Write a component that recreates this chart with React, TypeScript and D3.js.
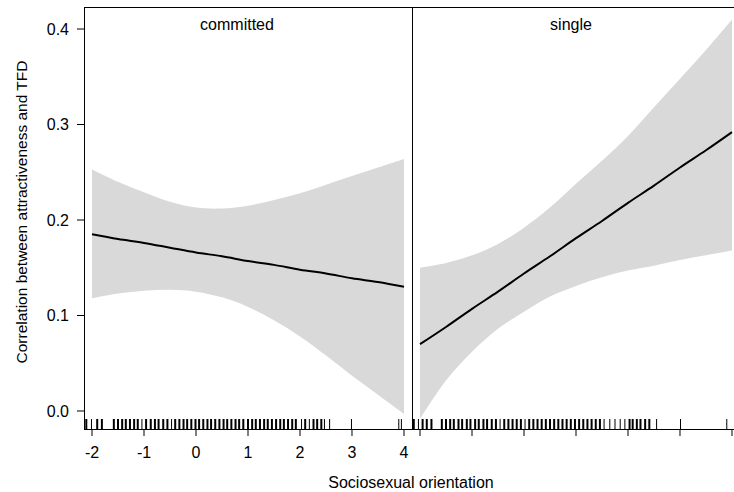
import React from 'react'
import * as d3 from 'd3'

// moderator grid used for the fitted line and its confidence band
const gridX = [-2, -1.5, -1, -0.5, 0, 0.5, 1, 1.5, 2, 2.5, 3, 3.5, 4]

const committedFit = [0.185, 0.18, 0.176, 0.171, 0.166, 0.162, 0.157, 0.153, 0.148, 0.144, 0.139, 0.135, 0.13]
const committedUpper = [0.253, 0.24, 0.229, 0.219, 0.213, 0.212, 0.215, 0.221, 0.228, 0.237, 0.246, 0.255, 0.264]
const committedLower = [0.118, 0.123, 0.126, 0.127, 0.125, 0.119, 0.109, 0.095, 0.078, 0.058, 0.037, 0.017, -0.003]

const singleFit = [0.07, 0.088, 0.107, 0.125, 0.144, 0.162, 0.181, 0.199, 0.218, 0.236, 0.255, 0.273, 0.292]
const singleUpper = [0.15, 0.155, 0.163, 0.175, 0.192, 0.213, 0.238, 0.262, 0.288, 0.318, 0.348, 0.378, 0.41]
const singleLower = [-0.008, 0.032, 0.062, 0.086, 0.104, 0.12, 0.131, 0.14, 0.147, 0.152, 0.158, 0.163, 0.168]

// rug of observed sociosexual orientation scores
const committedRug = [
  -2.11, -1.9, -1.81, -1.58, -1.5, -1.42, -1.35, -1.27, -1.19, -1.12, -0.96, -0.87, -0.79,
  -0.72, -0.63, -0.55, -0.4, -0.32, -0.24, -0.17, -0.09, -0.01, 0.06, 0.14, 0.22, 0.29,
  0.37, 0.45, 0.53, 0.6, 0.68, 0.76, 0.83, 0.91, 1.0, 1.08, 1.15, 1.23, 1.31, 1.38,
  1.46, 1.54, 1.62, 1.69, 1.77, 1.85, 1.92, 2.1, 2.26, 2.33, 2.41
]
const committedRugThin = [-2.01, -1.04, -0.47, 2.03, 2.18, 2.47, 2.57, 2.99, 3.9, 3.95]

const singleRug = [
  -2.12, -1.95, -1.87, -1.78, -1.58, -1.5, -1.42, -1.35, -1.26, -1.19, -1.1, -1.03, -0.94,
  -0.87, -0.78, -0.71, -0.62, -0.54, -0.38, -0.3, -0.22, -0.14, -0.06, 0.1, 0.18, 0.26,
  0.34, 0.42, 0.5, 0.58, 0.66, 0.74, 0.82, 0.9, 0.98, 1.06, 1.14, 1.22, 1.3, 1.38, 1.46,
  2.03, 2.09, 2.17, 2.24, 2.33, 2.41
]
const singleRugThin = [-2.03, -0.46, 0.02, 1.54, 1.65, 1.75, 1.85, 1.94, 2.55, 3.01, 3.9]

const xTicks = [-2, -1, 0, 1, 2, 3, 4]
const yTicks = [0, 0.1, 0.2, 0.3, 0.4]

const panels = [
  { name: 'committed', fit: committedFit, upper: committedUpper, lower: committedLower, rug: committedRug, rugThin: committedRugThin, labelX: 237, showLabels: true },
  { name: 'single', fit: singleFit, upper: singleUpper, lower: singleLower, rug: singleRug, rugThin: singleRugThin, labelX: 571, showLabels: false },
]

const width = 734
const height = 492
const top = 7
const bottom = 429
const panelLeft = 84
const panelWidth = 328
const font = 'Liberation Sans, Arial, sans-serif'

export default function App() {
  const y = d3.scaleLinear().domain([0, 0.4]).range([411, 29])

  return (
    <svg width={width} height={height} style={{ position: 'absolute', left: 0, top: 0, background: '#fff' }} fontFamily={font}>
      {panels.map((p, i) => {
        const x0 = panelLeft + i * panelWidth
        const x = d3.scaleLinear().domain([-2.154, 4.154]).range([x0, x0 + panelWidth])
        const pts = gridX.map((v, k) => ({ x: v, fit: p.fit[k], lo: p.lower[k], hi: p.upper[k] }))
        const band = d3.area<any>().x(d => x(d.x)).y0(d => y(d.lo)).y1(d => y(d.hi)).curve(d3.curveCatmullRom)
        const line = d3.line<any>().x(d => x(d.x)).y(d => y(d.fit)).curve(d3.curveCatmullRom)
        return (
          <g key={p.name}>
            <path d={band(pts) || ''} fill="#d9d9d9" />
            <path d={line(pts) || ''} fill="none" stroke="#000" strokeWidth={2} />
            {p.rug.map((v, k) => (
              <line key={'r' + k} x1={x(v)} x2={x(v)} y1={419} y2={bottom} stroke="#000" strokeWidth={2} />
            ))}
            {p.rugThin.map((v, k) => (
              <line key={'t' + k} x1={x(v)} x2={x(v)} y1={419} y2={bottom} stroke="#000" strokeWidth={1} />
            ))}
            {xTicks.map(t => (
              <g key={t}>
                <line x1={x(t)} x2={x(t)} y1={bottom} y2={436} stroke="#000" strokeWidth={1} />
                {p.showLabels && (
                  <text x={x(t)} y={458} fontSize={16} textAnchor="middle">{t}</text>
                )}
              </g>
            ))}
            <text x={p.labelX} y={30} fontSize={16} textAnchor="middle">{p.name}</text>
            <line x1={x0 + 0.5} x2={x0 + 0.5} y1={top} y2={bottom} stroke="#000" strokeWidth={1} />
          </g>
        )
      })}
      <line x1={panelLeft} x2={width} y1={top + 0.5} y2={top + 0.5} stroke="#000" strokeWidth={1} />
      <line x1={panelLeft} x2={width} y1={bottom + 0.5} y2={bottom + 0.5} stroke="#000" strokeWidth={1} />
      {yTicks.map(t => (
        <g key={t}>
          <line x1={77} x2={panelLeft} y1={y(t)} y2={y(t)} stroke="#000" strokeWidth={1} />
          <text x={69} y={y(t)} dy="0.35em" fontSize={16} textAnchor="end">{t.toFixed(1)}</text>
        </g>
      ))}
      <text transform="translate(27,212) rotate(-90)" fontSize={15.5} textAnchor="middle">
        Correlation between attractiveness and TFD
      </text>
      <text x={411} y={488} fontSize={16} textAnchor="middle">Sociosexual orientation</text>
    </svg>
  )
}
